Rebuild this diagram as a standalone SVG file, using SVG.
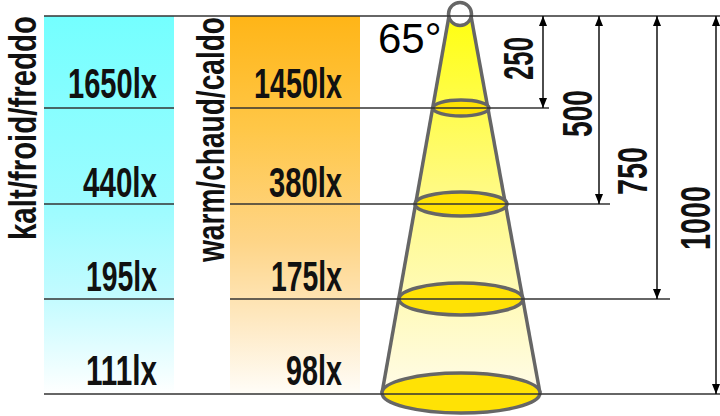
<svg xmlns="http://www.w3.org/2000/svg" width="720" height="416" viewBox="0 0 720 416">
<defs>
<linearGradient id="gCold" x1="0" y1="0" x2="0" y2="1">
<stop offset="0" stop-color="#74ffff"/>
<stop offset="0.5" stop-color="#9cfcff"/>
<stop offset="0.75" stop-color="#c4fbff"/>
<stop offset="1" stop-color="#ffffff"/>
</linearGradient>
<linearGradient id="gWarm" x1="0" y1="0" x2="0" y2="1">
<stop offset="0" stop-color="#ffb517"/>
<stop offset="0.3" stop-color="#ffc748"/>
<stop offset="0.6" stop-color="#fed588"/>
<stop offset="0.8" stop-color="#fee8c0"/>
<stop offset="1" stop-color="#fffdf8"/>
</linearGradient>
<linearGradient id="gCone" x1="0" y1="0" x2="0" y2="1">
<stop offset="0" stop-color="#ffff10"/>
<stop offset="0.45" stop-color="#fffa80"/>
<stop offset="1" stop-color="#fffbe8"/>
</linearGradient>
<marker id="ah" viewBox="0 0 10 8" refX="10" refY="4" markerWidth="10" markerHeight="8" markerUnits="userSpaceOnUse" orient="auto-start-reverse">
<path d="M0,0 L10,4 L0,8 z" fill="#000"/>
</marker>
<style>
.lbl{font-family:"Liberation Sans",Arial,sans-serif;font-size:43px;font-weight:bold;fill:#111}
.vl{font-family:"Liberation Sans",Arial,sans-serif;font-size:38px;font-weight:bold;fill:#111}
.ln{stroke:#333;stroke-width:1.5;fill:none}
.dim{stroke:#000;stroke-width:1.4;fill:none;marker-start:url(#ah);marker-end:url(#ah)}
.cs{stroke:#666;stroke-width:3.5}
.ell{fill:#ffe205;stroke:#666;stroke-width:3.5}
</style>
</defs>
<rect width="720" height="416" fill="#fff"/>
<g id="col-cold">
<rect x="44" y="16" width="130" height="378" fill="url(#gCold)"/>
<text class="lbl" x="157" y="98" text-anchor="end" textLength="89" lengthAdjust="spacingAndGlyphs">1650lx</text>
<text class="lbl" x="157" y="197" text-anchor="end" textLength="74" lengthAdjust="spacingAndGlyphs">440lx</text>
<text class="lbl" x="157" y="291" text-anchor="end" textLength="71" lengthAdjust="spacingAndGlyphs">195lx</text>
<text class="lbl" x="157" y="385" text-anchor="end" textLength="71" lengthAdjust="spacingAndGlyphs">111lx</text>
<text class="vl" transform="translate(36,240) rotate(-90)" textLength="224" lengthAdjust="spacingAndGlyphs">kalt/froid/freddo</text>
</g>
<g id="col-warm">
<rect x="230" y="16" width="130" height="378" fill="url(#gWarm)"/>
<text class="lbl" x="342" y="98" text-anchor="end" textLength="88" lengthAdjust="spacingAndGlyphs">1450lx</text>
<text class="lbl" x="342" y="197" text-anchor="end" textLength="73" lengthAdjust="spacingAndGlyphs">380lx</text>
<text class="lbl" x="342" y="291" text-anchor="end" textLength="71" lengthAdjust="spacingAndGlyphs">175lx</text>
<text class="lbl" x="342" y="385" text-anchor="end" textLength="56" lengthAdjust="spacingAndGlyphs">98lx</text>
<text class="vl" transform="translate(224,262) rotate(-90)" textLength="245" lengthAdjust="spacingAndGlyphs">warm/chaud/caldo</text>
</g>
<g id="cone">
<path d="M449,16 L471,16 L540,393 L382,393 Z" fill="url(#gCone)"/>
<line class="cs" x1="449" y1="16" x2="382" y2="393"/>
<line class="cs" x1="471" y1="16" x2="540" y2="393"/>
<ellipse class="ell" cx="461" cy="108" rx="28" ry="8"/>
<ellipse class="ell" cx="461" cy="204" rx="46" ry="12"/>
<ellipse class="ell" cx="461" cy="299" rx="62" ry="16"/>
<ellipse class="ell" cx="461" cy="393" rx="79" ry="20"/>
<circle cx="460" cy="14" r="11.5" fill="#fff" stroke="#666" stroke-width="3.5"/>
<text x="378" y="53" font-family="Liberation Sans, Arial, sans-serif" font-size="42" fill="#000">65°</text>
</g>
<g id="connectors">
<line class="ln" x1="44" y1="16" x2="720" y2="16"/>
<line class="ln" x1="44" y1="394" x2="720" y2="394"/>
<line class="ln" x1="44" y1="108" x2="174" y2="108"/>
<line class="ln" x1="230" y1="108" x2="549" y2="108"/>
<line class="ln" x1="44" y1="204" x2="174" y2="204"/>
<line class="ln" x1="230" y1="204" x2="610" y2="204"/>
<line class="ln" x1="44" y1="299" x2="174" y2="299"/>
<line class="ln" x1="230" y1="299" x2="670" y2="299"/>
<line class="dim" x1="543" y1="16" x2="543" y2="108"/>
<line class="dim" x1="599" y1="16" x2="599" y2="204"/>
<line class="dim" x1="657" y1="16" x2="657" y2="299"/>
<line class="dim" x1="716" y1="16" x2="716" y2="394"/>
</g>
<g id="dim-labels">
<text class="lbl" transform="translate(533,58.5) rotate(-90)" text-anchor="middle" font-size="42" textLength="43" lengthAdjust="spacingAndGlyphs">250</text>
<text class="lbl" transform="translate(592,113.5) rotate(-90)" text-anchor="middle" font-size="42" textLength="47" lengthAdjust="spacingAndGlyphs">500</text>
<text class="lbl" transform="translate(647,171) rotate(-90)" text-anchor="middle" font-size="42" textLength="48" lengthAdjust="spacingAndGlyphs">750</text>
<text class="lbl" transform="translate(710,218) rotate(-90)" text-anchor="middle" font-size="42" textLength="64" lengthAdjust="spacingAndGlyphs">1000</text>
</g>
</svg>
